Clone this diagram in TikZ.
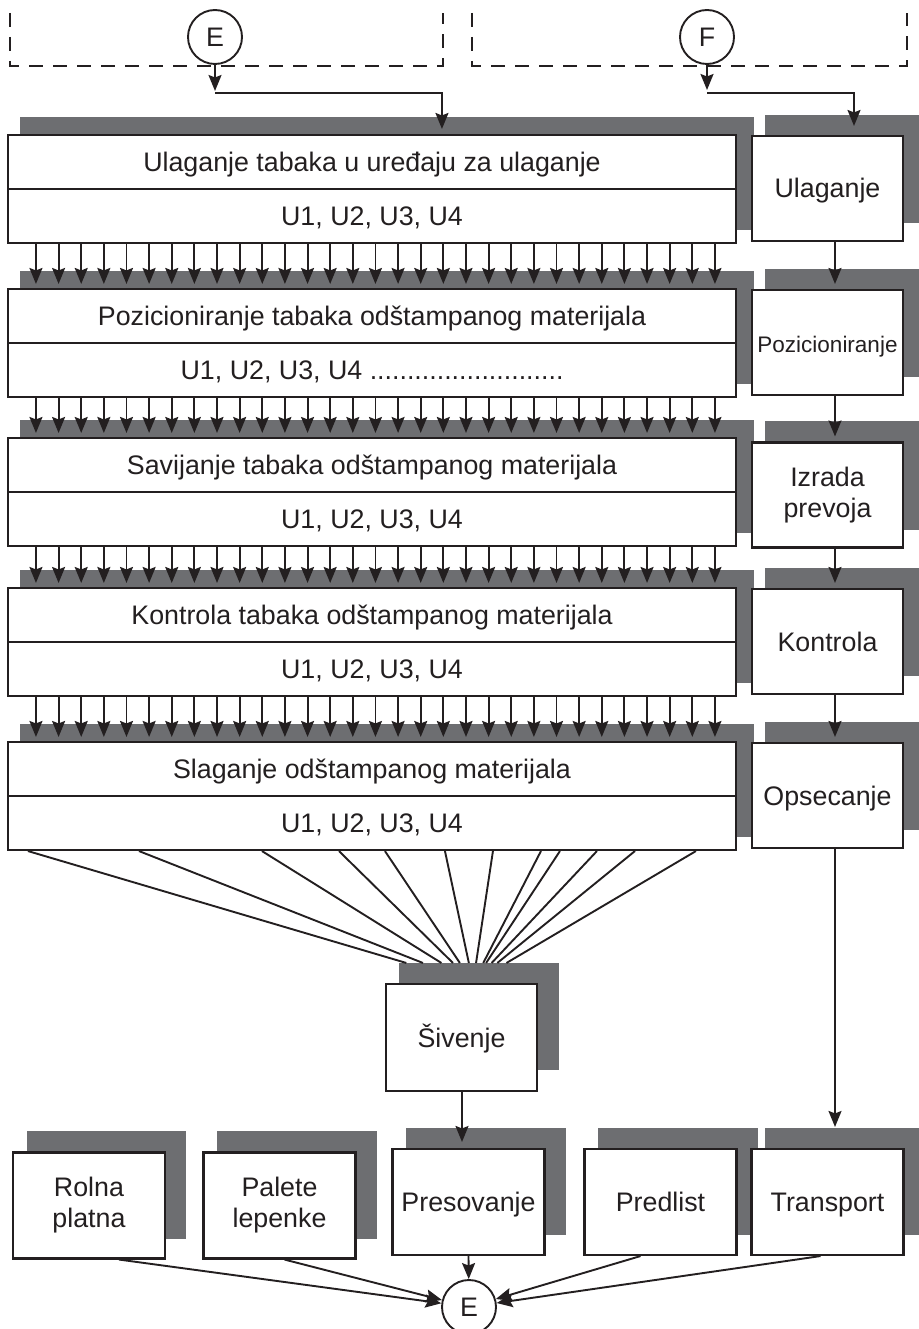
\documentclass[tikz,border=0pt]{standalone}
\usepackage{fontspec}
\setmainfont{Liberation Sans}
\usetikzlibrary{arrows.meta,backgrounds}
\definecolor{shadowgray}{RGB}{109,110,113}
\definecolor{ink}{RGB}{35,31,32}
\begin{document}
\begin{tikzpicture}[x=1pt,y=-1pt,
  every node/.style={font=\fontsize{26.8}{31}\selectfont, text=ink},
  tx/.style={text height=19pt, text depth=0pt},
  box/.style={draw=ink, line width=2.1pt, fill=white, inner sep=0pt, align=center},
  wide/.style={box, tx, minimum width=728pt, minimum height=54pt},
  small/.style={box, minimum width=151pt, minimum height=105pt},
  low/.style={box, minimum width=152pt, minimum height=106pt},
  circ/.style={draw=ink, circle, line width=1.9pt, minimum size=54pt, inner sep=0pt, fill=white, tx},
  shd/.style={fill=shadowgray},
  arr/.style={draw=ink, line width=1.9pt, -{Stealth[length=16pt,width=13pt,inset=2.5pt]}},
  ln/.style={draw=ink, line width=1.9pt},
  dsh/.style={draw=ink, line width=1.9pt, dash pattern=on 14pt off 10pt}
]
\useasboundingbox (0,0) rectangle (918,1329);

% dashed frames
\draw[dsh] (10,13) -- (10,66) -- (443,66) -- (443,13);
\draw[dsh] (472,13) -- (472,66) -- (907,66) -- (907,13);

% connector circles
\node[circ] (Etop) at (215,37) {E};
\node[circ] (Ftop) at (707,37) {F};

% big boxes
\node[wide] (b1t) at (372,162) {Ulaganje tabaka u uređaju za ulaganje};
\node[wide] (b1u) at (372,216) {U1, U2, U3, U4};
\node[wide] (b2t) at (372,316) {Pozicioniranje tabaka odštampanog materijala};
\node[wide] (b2u) at (372,370) {U1, U2, U3, U4 ..........................};
\node[wide] (b3t) at (372,465) {Savijanje tabaka odštampanog materijala};
\node[wide] (b3u) at (372,519) {U1, U2, U3, U4};
\node[wide] (b4t) at (372,615) {Kontrola tabaka odštampanog materijala};
\node[wide] (b4u) at (372,669) {U1, U2, U3, U4};
\node[wide] (b5t) at (372,769) {Slaganje odštampanog materijala};
\node[wide] (b5u) at (372,823) {U1, U2, U3, U4};

% right column
\node[small, tx] (r1) at (827.5,188.5) {Ulaganje};
\node[small, tx, font=\fontsize{22.5}{27}\selectfont] (r2) at (827.5,342.5) {Pozicioniranje};
\node[small, yshift=-3.5pt] (r3) at (827.5,491.5) {Izrada\\prevoja};
\node[small, tx] (r4) at (827.5,641.5) {Kontrola};
\node[small, tx] (r5) at (827.5,795.5) {Opsecanje};

% sewing
\node[box, tx, minimum width=151pt, minimum height=107pt] (siv) at (461.5,1037.5) {Šivenje};

% bottom row
\node[low, yshift=-3.5pt] (rolna) at (89,1202) {Rolna\\platna};
\node[low, yshift=-3.5pt] (palete) at (279.5,1202) {Palete\\lepenke};
\node[low, tx] (pres) at (468.5,1202) {Presovanje};
\node[low, tx] (pred) at (660.5,1202) {Predlist};
\node[low, tx] (trans) at (827.5,1202) {Transport};

\node[circ] (Ebot) at (469,1307) {E};

% shadows
\begin{scope}[on background layer]
  \foreach \t/\u in {b1t/b1u,b2t/b2u,b3t/b3u,b4t/b4u,b5t/b5u}
    \fill[shd] ([xshift=13pt,yshift=17pt]\t.north west) rectangle ([xshift=17pt,yshift=14pt]\u.south east);
  \foreach \r in {r1,r2,r3,r4,r5}
    \fill[shd] ([xshift=14pt,yshift=20pt]\r.north west) rectangle ([xshift=15pt,yshift=19pt]\r.south east);
  \fill[shd] ([xshift=14pt,yshift=20pt]siv.north west) rectangle ([xshift=21pt,yshift=22pt]siv.south east);
  \foreach \b in {rolna,palete,pres,pred,trans}
    \fill[shd] ([xshift=15pt,yshift=20pt]\b.north west) rectangle ([xshift=20pt,yshift=21pt]\b.south east);
\end{scope}

% entry arrows from E and F
\coordinate (ea) at (215,91);
\coordinate (eb) at (215,93);
\coordinate (fa) at (707,90);
\coordinate (fb) at (707,93);
\draw[arr] (Etop.south) -- (ea);
\draw[arr] (eb) -| ([xshift=435pt,yshift=5pt]b1t.north west);
\draw[arr] (Ftop.south) -- (fa);
\draw[arr] (fb) -| ([xshift=26.5pt,yshift=9pt]r1.north);

% row arrows
\foreach \u/\t in {b1u/b2t,b2u/b3t,b3u/b4t,b4u/b5t}{
  \foreach \i in {0,...,30}{
    \draw[arr] ([xshift={29+\i*22.633}]\u.south west) -- ([xshift={29+\i*22.633},yshift=4pt]\t.north west);
  }
}

% right column arrows
\foreach \a/\b in {r1/r2,r2/r3,r3/r4,r4/r5}
  \draw[arr] ([xshift=7.5pt]\a.south) -- ([xshift=7.5pt,yshift=5pt]\b.north);

% fan to sewing
\foreach \s in {29,140,263,340,386,446,494,542,561,598,636,697}{
  \pgfmathsetmacro{\e}{463+(\s-400)*0.15-386}
  \draw[ln] ([xshift={\s-8}]b5u.south west) -- ([xshift=\e pt,yshift=20pt]siv.north west);
}

% sewing to pressing, cutting to transport
\draw[arr] ([xshift=0.5pt]siv.south) -- ([xshift=-6.5pt,yshift=6pt]pres.north);
\draw[arr] ([xshift=7.5pt]r5.south) -- ([xshift=7.5pt,yshift=21pt]trans.north);

% into bottom E
\draw[arr] ([xshift=30pt]rolna.south) -- (Ebot);
\draw[arr] ([xshift=5pt]palete.south) -- (Ebot);
\draw[arr] (pres.south) -- (Ebot);
\draw[arr] ([xshift=-20pt]pred.south) -- (Ebot);
\draw[arr] ([xshift=-7pt]trans.south) -- (Ebot);
\end{tikzpicture}
\end{document}
